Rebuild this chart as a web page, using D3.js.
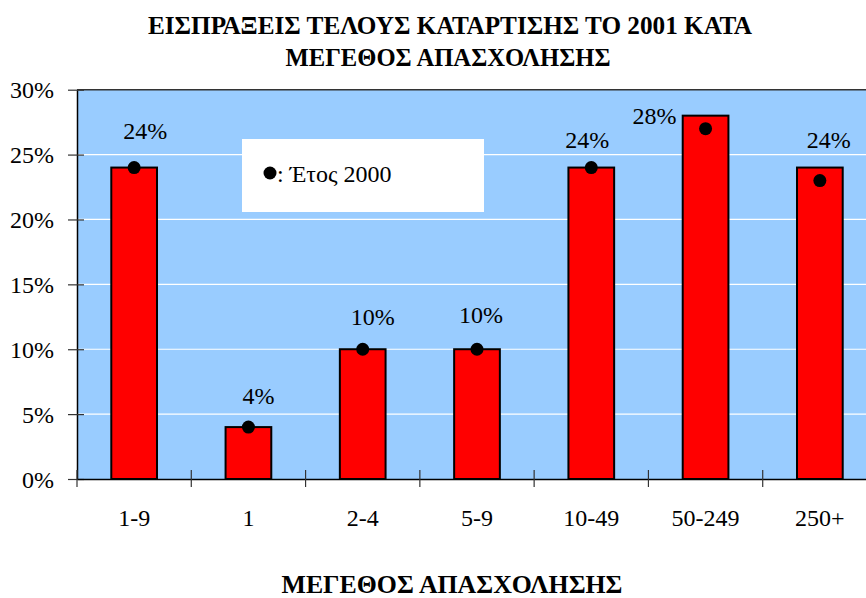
<!DOCTYPE html>
<html>
<head>
<meta charset="utf-8">
<script src="https://cdn.jsdelivr.net/npm/d3@7"></script>
<style>
  html, body { margin: 0; padding: 0; background: #fff; }
  svg { display: block; }
</style>
</head>
<body>
<svg id="chart" width="866" height="598"></svg>
<script>
// ---- data ----
const categories = ["1-9", "1", "2-4", "5-9", "10-49", "50-249", "250+"];
const values2001 = [24, 4, 10, 10, 24, 28, 24];
const values2000 = [24, 4, 10, 10, 24, 27, 23];
const yTicks = [0, 5, 10, 15, 20, 25, 30];
const titleLines = ["ΕΙΣΠΡΑΞΕΙΣ ΤΕΛΟΥΣ ΚΑΤΑΡΤΙΣΗΣ ΤΟ 2001 ΚΑΤΑ", "ΜΕΓΕΘΟΣ ΑΠΑΣΧΟΛΗΣΗΣ"];
const xAxisTitle = "ΜΕΓΕΘΟΣ ΑΠΑΣΧΟΛΗΣΗΣ";
const legendLabel = ": Έτος 2000";

// ---- layout (label nudges as placed in the original) ----
const labelDx = [11, 10, 10, 4, -4, -51, 9];
const labelDy = [-29, -23, -24, -26, -20, 8, -20];

const FONT = '"Liberation Serif"';
const svg = d3.select("#chart");
const pLeft = 77, pTop = 89.7, pBottom = 479, pRight = 877;

const x = d3.scaleBand().domain(categories).range([pLeft, pRight]).paddingInner(0.6).paddingOuter(0.3);
const y = d3.scaleLinear().domain([0, 30]).range([pBottom, pTop]);

// plot background
svg.append("rect").attr("x", pLeft).attr("y", pTop).attr("width", pRight - pLeft).attr("height", pBottom - pTop)
  .attr("fill", "#99CCFF");

// gridlines
svg.append("g").selectAll("line").data(yTicks.filter(t => t > 0 && t < 30)).join("line")
  .attr("x1", pLeft).attr("x2", pRight).attr("y1", d => y(d)).attr("y2", d => y(d))
  .attr("stroke", "#ffffff").attr("stroke-width", 1.2);

// top border
svg.append("line").attr("x1", pLeft).attr("x2", pRight).attr("y1", y(30)).attr("y2", y(30))
  .attr("stroke", "#333").attr("stroke-width", 1.5);

// legend box
svg.append("rect").attr("x", 242).attr("y", 139).attr("width", 242).attr("height", 73).attr("fill", "#ffffff");
svg.append("circle").attr("cx", 270).attr("cy", 173).attr("r", 6.5).attr("fill", "#000");
svg.append("text").attr("x", 277).attr("y", 182).style("font-size", "24px").style("font-family", FONT)
  .attr("fill", "#000").text(legendLabel);

// y axis
const yAxis = d3.axisLeft(y).tickValues(yTicks).tickFormat(d => d + "%").tickSize(0).tickPadding(0);
const gy = svg.append("g").attr("transform", `translate(${pLeft},0)`).call(yAxis)
  .attr("font-family", null).attr("font-size", null);
gy.select(".domain").attr("stroke", "#000").attr("stroke-width", 1.5);
gy.selectAll(".tick text").attr("x", -23).attr("dy", "0.34em").style("font-size", "24px")
  .style("font-family", FONT).attr("fill", "#000");
gy.selectAll(".tick").append("line").attr("x1", -9).attr("x2", 7).attr("stroke", "#333").attr("stroke-width", 1.2);

// x axis
const xAxis = d3.axisBottom(x).tickSize(0).tickPadding(0);
const gx = svg.append("g").attr("transform", `translate(0,${pBottom})`).call(xAxis)
  .attr("font-family", null).attr("font-size", null);
gx.select(".domain").attr("stroke", "#000").attr("stroke-width", 1.5);
gx.selectAll(".tick text").attr("y", 47).attr("dy", 0).style("font-size", "24px")
  .style("font-family", FONT).attr("fill", "#000");
const step = x.step();
const boundaries = categories.map(c => x(c) - (step - x.bandwidth()) / 2).concat([pRight]);
gx.selectAll(".btick").data(boundaries).join("line").attr("class", "btick")
  .attr("x1", d => d).attr("x2", d => d).attr("y1", -9).attr("y2", 8)
  .attr("stroke", "#333").attr("stroke-width", 1.2);

// bars
svg.append("g").selectAll("rect").data(categories).join("rect")
  .attr("x", c => x(c)).attr("width", x.bandwidth())
  .attr("y", (c, i) => y(values2001[i])).attr("height", (c, i) => y(0) - y(values2001[i]))
  .attr("fill", "#FF0000").attr("stroke", "#000").attr("stroke-width", 2);

// 2000 dots
svg.append("g").selectAll("circle").data(categories).join("circle")
  .attr("cx", c => x(c) + x.bandwidth() / 2).attr("cy", (c, i) => y(values2000[i]))
  .attr("r", 6.5).attr("fill", "#000");

// value labels
svg.append("g").selectAll("text").data(categories).join("text")
  .attr("x", (c, i) => x(c) + x.bandwidth() / 2 + labelDx[i])
  .attr("y", (c, i) => y(values2001[i]) + labelDy[i])
  .attr("text-anchor", "middle").style("font-size", "24px").style("font-family", FONT).attr("fill", "#000")
  .text((c, i) => values2001[i] + "%");

// title
svg.append("text").attr("x", 450).attr("y", 34).attr("text-anchor", "middle").style("font-family", FONT)
  .style("font-size", "26px").style("font-weight", "bold").attr("textLength", 604).attr("lengthAdjust", "spacingAndGlyphs")
  .text(titleLines[0]);
svg.append("text").attr("x", 448).attr("y", 66).attr("text-anchor", "middle").style("font-family", FONT)
  .style("font-size", "26px").style("font-weight", "bold").attr("textLength", 325).attr("lengthAdjust", "spacingAndGlyphs")
  .text(titleLines[1]);

// x-axis title
svg.append("text").attr("x", 452).attr("y", 593).attr("text-anchor", "middle").style("font-family", FONT)
  .style("font-size", "26px").style("font-weight", "bold").attr("textLength", 341).attr("lengthAdjust", "spacingAndGlyphs")
  .text(xAxisTitle);
</script>
</body>
</html>
